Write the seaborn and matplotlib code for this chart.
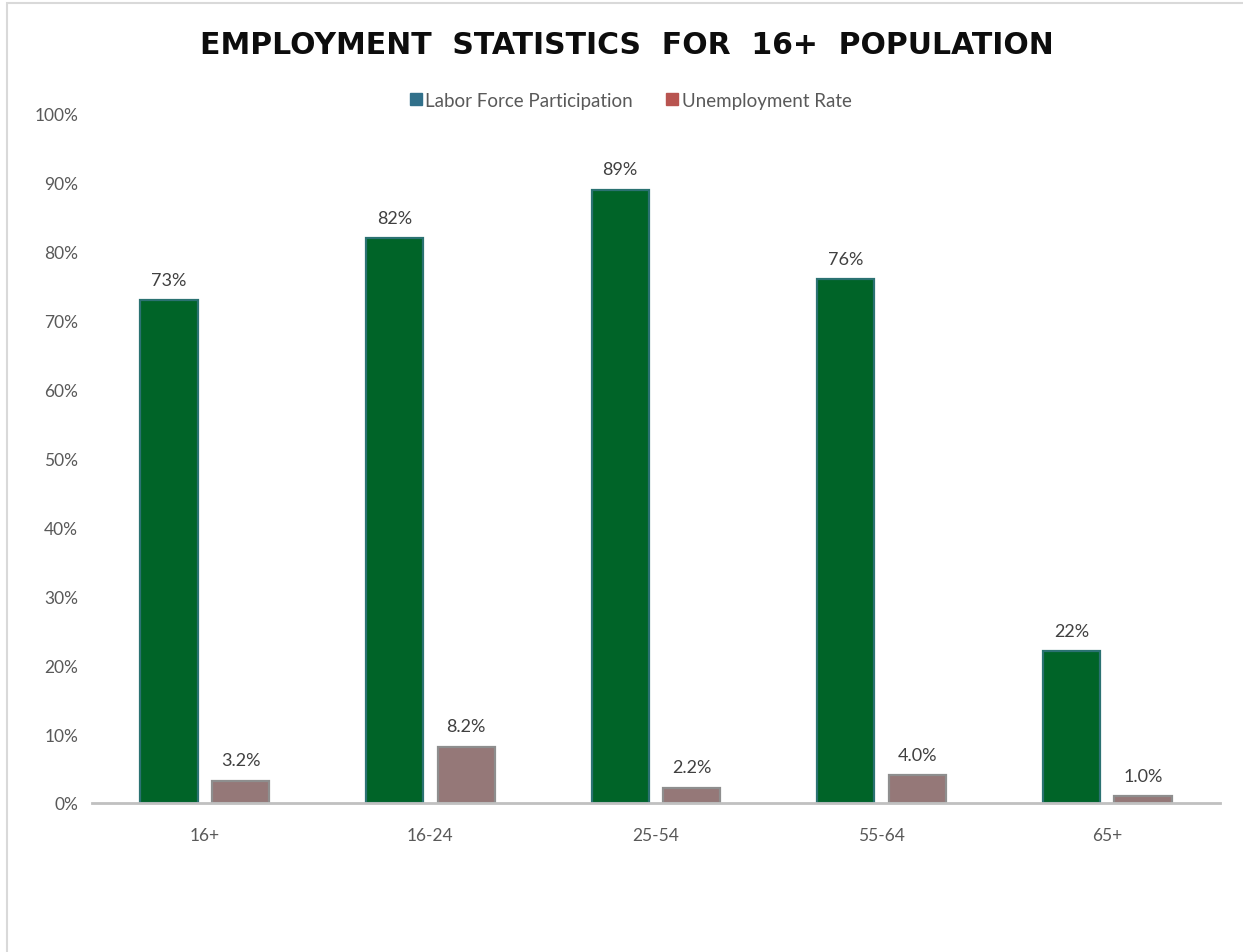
import matplotlib
matplotlib.use("Agg")
import matplotlib.pyplot as plt
from matplotlib.patches import Rectangle
from matplotlib.lines import Line2D
import seaborn as sns
import pandas as pd

# Age groups and the two rates (percent)
age_groups = ["16+", "16-24", "25-54", "55-64", "65+"]
labor_force = [73, 82, 89, 76, 22]
unemployment = [3.2, 8.2, 2.2, 4.0, 1.0]
series_names = ["Labor Force Participation", "Unemployment Rate"]
y_ticks = [0, 10, 20, 30, 40, 50, 60, 70, 80, 90, 100]

df = pd.DataFrame({
    "group": age_groups * 2,
    "value": labor_force + unemployment,
    "series": [series_names[0]] * len(age_groups) + [series_names[1]] * len(age_groups),
})

sns.set_theme(style="white")
plt.rcParams["font.family"] = ["Lato", "DejaVu Sans"]

fig = plt.figure(figsize=(12.43, 9.53), dpi=100)
ax = fig.add_axes([92 / 1243, 1 - 804 / 953, 1128 / 1243, 689 / 953])

face = {series_names[0]: "#006428", series_names[1]: "#957878"}
sns.barplot(data=df, x="group", y="value", hue="series", order=age_groups,
            hue_order=series_names, palette=face, width=0.634, gap=0.2,
            legend=False, ax=ax, saturation=1)

edge_cols = ["#2b7272", "#8e8e8e"]
for cont, ec, fmt in zip(ax.containers, edge_cols, ["{:.0f}%", "{:.1f}%"]):
    for bar in cont:
        bar.set_edgecolor(ec)
        bar.set_linewidth(1.6)
    ax.bar_label(cont, labels=[fmt.format(b.get_height()) for b in cont],
                 padding=9, fontsize=13, color="#404040")

ax.set_xlim(-0.5, 4.5)
ax.set_ylim(0, 100)
ax.set_yticks(y_ticks)
ax.set_yticklabels([f"{t}%" for t in y_ticks])
ax.set_xlabel("")
ax.set_ylabel("")
ax.tick_params(axis="both", labelsize=12.5, labelcolor="#595959", length=0)
ax.tick_params(axis="x", pad=17)
ax.tick_params(axis="y", pad=10)

for s in ["top", "right", "left"]:
    ax.spines[s].set_visible(False)
ax.spines["bottom"].set_color("#c0c0c0")
ax.spines["bottom"].set_linewidth(2)

handles = [Line2D([0], [0], marker="s", linestyle="", markersize=8,
                  markerfacecolor=c, markeredgecolor=c)
           for c in ["#31708a", "#b85450"]]
fig.legend(handles, series_names, loc="center", bbox_to_anchor=(629 / 1243, 1 - 101 / 953),
           ncol=2, frameon=False, fontsize=13.5, labelcolor="#595959",
           handletextpad=0.0, columnspacing=1.6, handlelength=1.0)

fig.text(627 / 1243, 1 - 45 / 953, "EMPLOYMENT  STATISTICS  FOR  16+  POPULATION",
         ha="center", va="center", fontsize=21.5, fontweight="bold", color="#0d0d0d",
         family=["DejaVu Sans"])

# Chart frame
fig.patches.append(Rectangle((7 / 1243, -0.1), 1.2, 1.1 - 4 / 953, transform=fig.transFigure,
                             fill=False, edgecolor="#d9d9d9", linewidth=1.5))

fig.savefig("out.png", dpi=100)
